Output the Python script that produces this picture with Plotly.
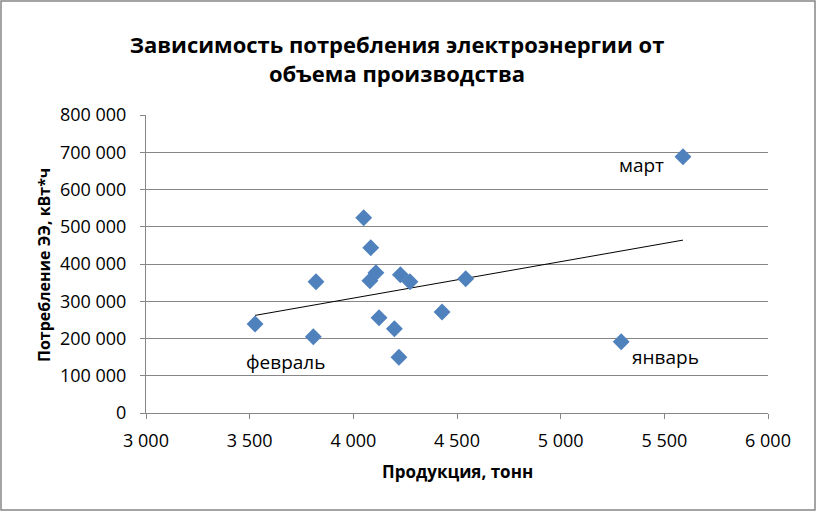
import numpy as np
import plotly.graph_objects as go

# Data
production = [3526, 3807, 3820, 4050, 4084, 4080, 4109, 4124, 4198, 4220,
              4227, 4273, 4428, 4542, 5590, 5292]
consumption = [238900, 204800, 352500, 524300, 443800, 355200, 376600, 255800,
               226300, 149500, 371300, 352500, 271100, 360500, 688100, 191400]

label_names = ["март", "январь", "февраль"]
label_points = [(5590, 688100), (5292, 191400), (3807, 204800)]
label_shifts = [(-41, -8), (44, -15), (-28, -25)]

x_ticks = [3000, 3500, 4000, 4500, 5000, 5500, 6000]
y_ticks = [0, 100000, 200000, 300000, 400000, 500000, 600000, 700000, 800000]

title_text = "Зависимость потребления электроэнергии от<br>объема производства"
x_title = "Продукция, тонн"
y_title = "Потребление ЭЭ, кВт*ч"

FONT = "Open Sans"
GRAY = "#868686"

# Linear trendline (least squares)
slope, intercept = np.polyfit(production, consumption, 1)
tx = np.array([min(production), max(production)])
ty = slope * tx + intercept

fig = go.Figure()
fig.add_trace(go.Scatter(x=tx, y=ty, mode="lines",
                         line=dict(color="black", width=1), showlegend=False,
                         hoverinfo="skip"))
fig.add_trace(go.Scatter(x=production, y=consumption, mode="markers",
                         marker=dict(symbol="diamond", size=13, color="#4F81BD",
                                     line=dict(width=0)),
                         showlegend=False))

W, H = 816, 511
L, R, T, B = 146, 48, 115, 98
pw, ph = W - L - R, H - T - B

for name, (px, py), (dx, dy) in zip(label_names, label_points, label_shifts):
    fig.add_annotation(x=px, y=py, text=name, showarrow=False,
                       xshift=dx, yshift=dy,
                       font=dict(family=FONT, size=19, color="black"))

fig.add_annotation(x=0.5, y=(413 - 472) / ph, xref="paper", yref="paper",
                   xanchor="center", yanchor="middle",
                   text=f"<b>{x_title}</b>", showarrow=False,
                   font=dict(family=FONT, size=17, color="black"))
fig.add_annotation(x=(44 - L) / pw, y=(413 - 265) / ph, xref="paper", yref="paper",
                   xanchor="center", yanchor="middle",
                   text=f"<b>{y_title}</b>", showarrow=False, textangle=-90,
                   font=dict(family=FONT, size=16, color="black"))

# chart border
fig.add_shape(type="rect", xref="paper", yref="paper",
              x0=(1 - L) / pw, x1=1 + (R - 1) / pw,
              y0=-(B - 1) / ph, y1=1 + (T - 1) / ph,
              line=dict(color=GRAY, width=1.5))

fig.update_layout(
    width=W, height=H,
    margin=dict(l=L, r=R, t=T, b=B),
    paper_bgcolor="white", plot_bgcolor="white",
    separators=", ",
    title=dict(text=f"<b>{title_text}</b>", x=397 / W, xanchor="center",
               y=1 - 53 / H, yanchor="middle", yref="container",
               font=dict(family=FONT, size=22, color="black")),
    xaxis=dict(range=[3000, 6000], tickvals=x_ticks, tickformat=",d",
               showgrid=False, zeroline=False, showline=True, linecolor=GRAY,
               linewidth=1, ticks="outside", ticklen=5, tickcolor=GRAY,
               ticklabelstandoff=6,
               tickfont=dict(family=FONT, size=18, color="black")),
    yaxis=dict(range=[0, 800000], tickvals=y_ticks, tickformat=",d",
               showgrid=True, gridcolor=GRAY, gridwidth=1, zeroline=False,
               showline=True, linecolor=GRAY, linewidth=1, ticks="outside",
               ticklen=5, tickcolor=GRAY, ticklabelstandoff=10,
               tickfont=dict(family=FONT, size=18, color="black")),
)

fig.write_html("out.html")
